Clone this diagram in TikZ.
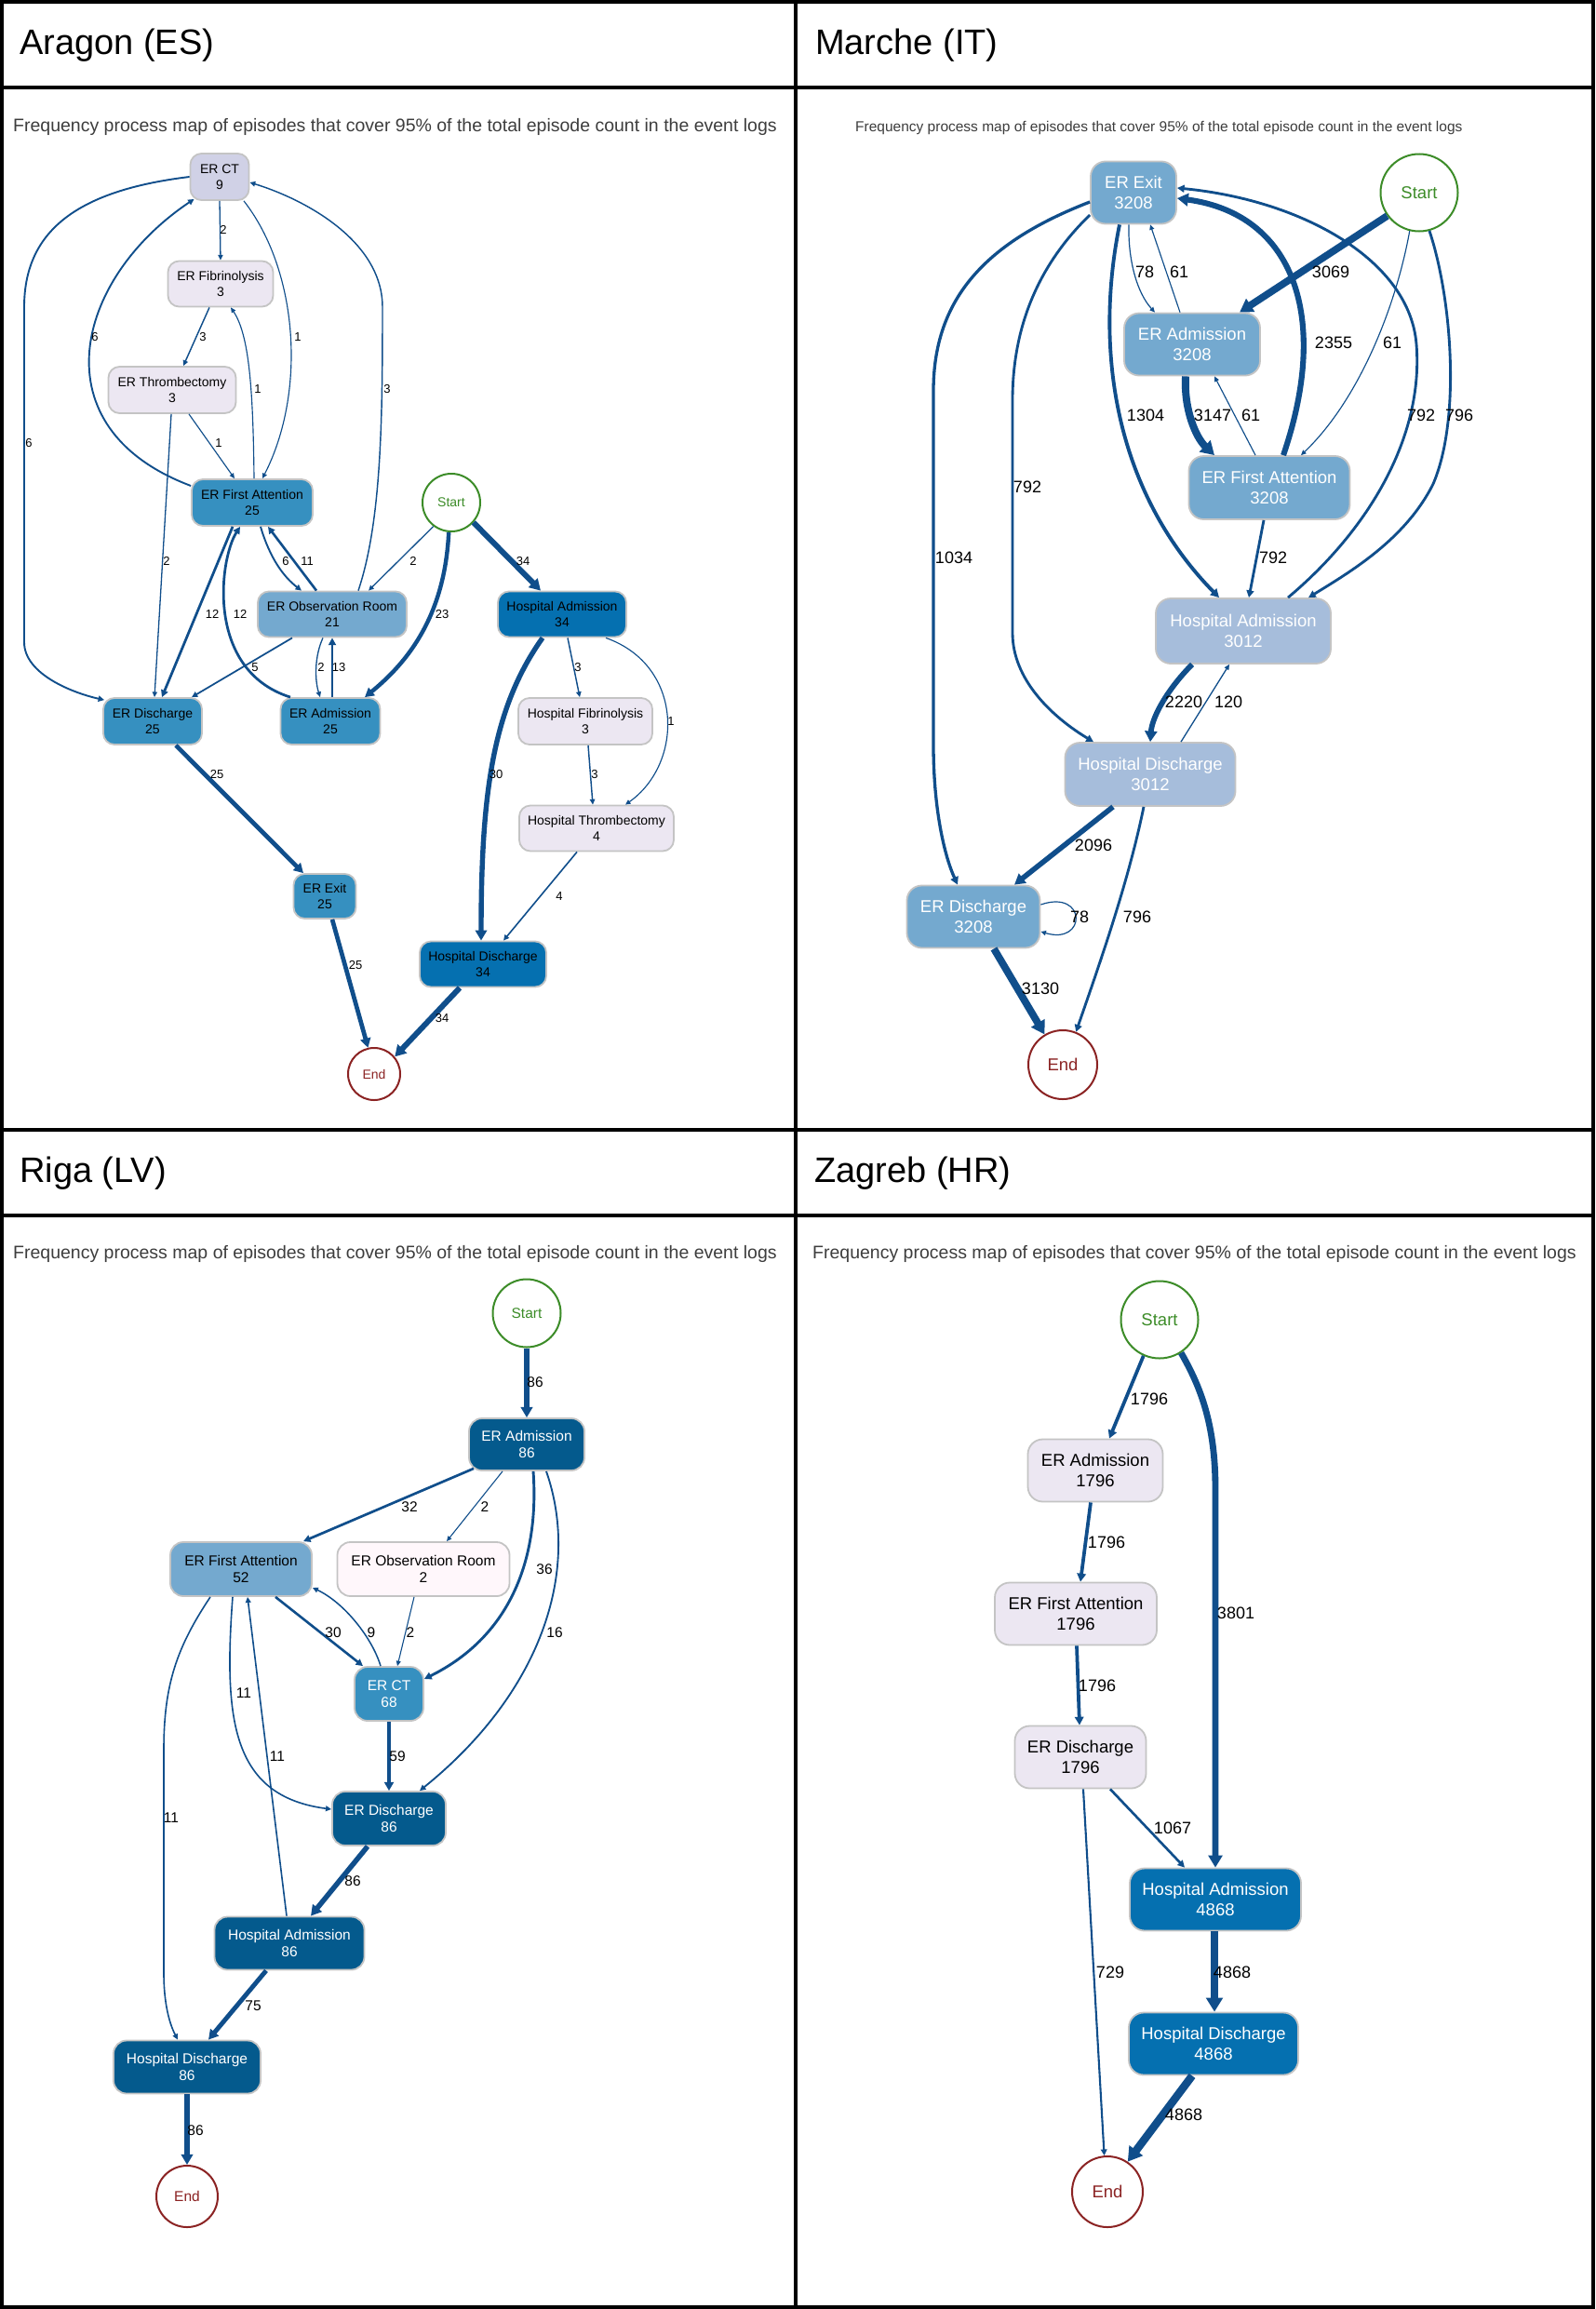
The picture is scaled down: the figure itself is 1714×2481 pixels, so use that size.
\documentclass[tikz,border=0pt]{standalone}
\usepackage{fontspec}
\setmainfont{Liberation Sans}
\usetikzlibrary{arrows.meta}
\definecolor{edgec}{HTML}{104E8B}
\definecolor{nbord}{HTML}{C4C4C4}
\definecolor{pu1}{HTML}{FFF7FB}
\definecolor{pu2}{HTML}{ECE7F2}
\definecolor{pu3}{HTML}{D0D1E6}
\definecolor{pu4}{HTML}{A6BDDB}
\definecolor{pu5}{HTML}{74A9CF}
\definecolor{pu6}{HTML}{3690C0}
\definecolor{pu7}{HTML}{0570B0}
\definecolor{pu8}{HTML}{045A8D}
\definecolor{startg}{HTML}{3C8C28}
\definecolor{endr}{HTML}{8B2323}
\definecolor{subg}{HTML}{3D3D3D}
\begin{document}
\begin{tikzpicture}[x=1pt,y=-1pt,
  every node/.style={inner sep=0pt},
  box/.style n args={3}{draw=nbord, line width=1.8pt, rounded corners=12pt, align=center,
     minimum width=#1pt, minimum height=#2pt, fill=#3},
  wt/.style={text=white},
  startn/.style={circle, draw=startg, text=startg, line width=2pt, fill=white, minimum size=#1pt},
  endn/.style={circle, draw=endr, text=endr, line width=2pt, fill=white, minimum size=#1pt},
  fa/.style={font=\fontsize{14}{17}\selectfont},
  fm/.style={font=\fontsize{18.5}{22}\selectfont, rounded corners=16pt},
  fr/.style={font=\fontsize{15.5}{18.5}\selectfont, rounded corners=14pt},
  fz/.style={font=\fontsize{18.5}{22}\selectfont, rounded corners=16pt},
  la/.style={font=\fontsize{13}{15}\selectfont},
  lm/.style={font=\fontsize{18}{20}\selectfont},
  lr/.style={font=\fontsize{15.5}{18}\selectfont},
  lz/.style={font=\fontsize{18}{20}\selectfont},
  flow/.style={draw=edgec, -{Triangle[length=4pt 1.3, width=3pt 1.7]}},
  fl/.style={flow, line width=#1pt},
  ttl/.style={anchor=base west, font=\fontsize{38}{42}\selectfont},
  sub/.style={anchor=base west, text=subg}
]
\useasboundingbox (0,0) rectangle (1714,2481);
\fill[white] (0,0) rectangle (1714,2481);
% frame
\draw[line width=4pt] (2,2) rectangle (1712,2479);
\draw[line width=4pt] (0,94) -- (1714,94);
\draw[line width=4pt] (0,1214) -- (1714,1214);
\draw[line width=4pt] (0,1306) -- (1714,1306);
\draw[line width=4pt] (855,0) -- (855,2481);
% titles
\node[ttl] (t1) at (21,59) {Aragon (ES)};
\node[ttl] (t2) at (876,59) {Marche (IT)};
\node[ttl] (t3) at (21,1270) {Riga (LV)};
\node[ttl] (t4) at (875,1270) {Zagreb (HR)};
\node[sub, font=\fontsize{19.5}{22}\selectfont] (s1) at (14,141.5) {Frequency process map of episodes that cover 95\% of the total episode count in the event logs};
\node[sub, font=\fontsize{15.5}{18}\selectfont] (s2) at (919,141.5) {Frequency process map of episodes that cover 95\% of the total episode count in the event logs};
\node[sub, font=\fontsize{19.5}{22}\selectfont] (s3) at (14,1352) {Frequency process map of episodes that cover 95\% of the total episode count in the event logs};
\node[sub, font=\fontsize{19.5}{22}\selectfont] (s4) at (873,1352) {Frequency process map of episodes that cover 95\% of the total episode count in the event logs};

% ================= ARAGON =================
\node[box={63}{50}{pu3}, fa] (aCT) at (236,190) {ER CT\\9};
\node[box={113}{49}{pu2}, fa] (aFib) at (237,305) {ER Fibrinolysis\\3};
\node[box={137}{50}{pu2}, fa] (aThr) at (185,419) {ER Thrombectomy\\3};
\node[box={130}{50}{pu6}, fa] (aFA) at (271,540) {ER First Attention\\25};
\node[startn=62, fa] (aStart) at (485,540) {Start};
\node[box={160}{49}{pu5}, fa] (aObs) at (357,660) {ER Observation Room\\21};
\node[box={138}{49}{pu7}, fa] (aHA) at (604,660) {Hospital Admission\\34};
\node[box={106}{50}{pu6}, fa] (aDis) at (164,775) {ER Discharge\\25};
\node[box={107}{50}{pu6}, fa] (aAdm) at (355,775) {ER Admission\\25};
\node[box={144}{50}{pu2}, fa] (aHFib) at (629,775) {Hospital Fibrinolysis\\3};
\node[box={166}{49}{pu2}, fa] (aHThr) at (641,890) {Hospital Thrombectomy\\4};
\node[box={67}{48}{pu6}, fa] (aExit) at (349,963) {ER Exit\\25};
\node[box={136}{49}{pu7}, fa] (aHD) at (519,1036) {Hospital Discharge\\34};
\node[endn=56, fa] (aEnd) at (402,1154) {End};

\draw[fl=1.3] (aCT.south) -- (aFib.north);
\draw[fl=1.45] ([xshift=-12pt]aFib.south) -- ([xshift=12pt]aThr.north);
\draw[fl=1.15] ([xshift=18pt]aThr.south) -- ([xshift=-19pt]aFA.north);
\draw[fl=1.15] ([xshift=2pt]aFA.north) .. controls (272,420) and (268,360) .. ([xshift=11pt]aFib.south);
\draw[fl=1.15] ([xshift=26pt]aCT.south) .. controls (320,290) and (330,420) .. ([xshift=11pt]aFA.north);
\draw[fl=1.9] ([yshift=18pt]aFA.west) .. controls (40,460) and (80,300) .. ([xshift=5pt,yshift=2pt]aCT.south west);
\draw[fl=1.9] (aCT.west) .. controls (80,205) and (26,250) .. (26,330) -- (26,690) .. controls (26,725) and (80,745) .. ([xshift=2pt,yshift=-3pt]aDis.north west);
\draw[fl=1.45] ([xshift=28pt]aObs.north) .. controls (410,560) and (411,450) .. (411,330) .. controls (411,260) and (330,215) .. ([yshift=-6pt]aCT.east);
\draw[fl=1.3] ([xshift=-1pt]aThr.south) -- ([xshift=2pt]aDis.north);
\draw[fl=2.75] ([xshift=-21pt]aFA.south) -- ([xshift=10pt]aDis.north);
\draw[fl=2.75] ([xshift=-43pt]aAdm.north) .. controls (220,720) and (236,600) .. ([xshift=-13pt]aFA.south);
\draw[fl=1.9] ([xshift=9pt]aFA.south) .. controls (290,600) and (305,620) .. ([xshift=-33pt]aObs.north);
\draw[fl=2.6] ([xshift=-17pt]aObs.north) -- ([xshift=17pt]aFA.south);
\draw[fl=1.3] (aStart.233) -- ([xshift=39pt]aObs.north);
\draw[fl=4.4] (aStart.265) .. controls (478,660) and (440,710) .. ([xshift=37pt]aAdm.north);
\draw[fl=6] (aStart.-42) -- ([xshift=-23pt]aHA.north);
\draw[fl=1.75] ([xshift=-43pt]aObs.south) -- ([xshift=42pt]aDis.north);
\draw[fl=1.3] ([xshift=-10pt]aObs.south) .. controls (338,705) and (338,730) .. ([xshift=-11pt]aAdm.north);
\draw[fl=2.9] ([xshift=2pt]aAdm.north) -- (aObs.south);
\draw[fl=4.7] ([xshift=25pt]aDis.south) -- ([xshift=-23pt]aExit.north);
\draw[fl=4.7] ([xshift=8pt]aExit.south) -- (aEnd.103);
\draw[fl=5.4] ([xshift=-21pt]aHA.south) .. controls (530,760) and (517,850) .. ([xshift=-2pt]aHD.north);
\draw[fl=1.45] ([xshift=6pt]aHA.south) -- ([xshift=-6pt]aHFib.north);
\draw[fl=1.15] ([xshift=47pt]aHA.south) .. controls (735,715) and (735,820) .. ([xshift=31pt]aHThr.north);
\draw[fl=1.45] ([xshift=3pt]aHFib.south) -- ([xshift=-4pt]aHThr.north);
\draw[fl=1.6] ([xshift=-21pt]aHThr.south) -- ([xshift=22pt]aHD.north);
\draw[fl=6] ([xshift=-25pt]aHD.south) -- (aEnd.40);

\node[la] (la1) at (240,247) {2};
\node[la] (la2) at (218,362) {3};
\node[la] (la3) at (235,476) {1};
\node[la] (la4) at (277,418) {1};
\node[la] (la5) at (320,362) {1};
\node[la] (la6) at (102,362) {6};
\node[la] (la7) at (31,476) {6};
\node[la] (la8) at (416,418) {3};
\node[la] (la9) at (179,603) {2};
\node[la] (la10) at (228,660) {12};
\node[la] (la11) at (258,660) {12};
\node[la] (la12) at (307,603) {6};
\node[la] (la13) at (330,603) {11};
\node[la] (la14) at (444,603) {2};
\node[la] (la15) at (475,660) {23};
\node[la] (la16) at (562,603) {34};
\node[la] (la17) at (274,717) {5};
\node[la] (la18) at (345,717) {2};
\node[la] (la19) at (364,717) {13};
\node[la] (la20) at (233,832) {25};
\node[la] (la21) at (382,1037) {25};
\node[la] (la22) at (533,832) {30};
\node[la] (la23) at (621,717) {3};
\node[la] (la24) at (721,775) {1};
\node[la] (la25) at (639,832) {3};
\node[la] (la26) at (601,963) {4};
\node[la] (la27) at (475,1094) {34};

% ================= MARCHE =================
\node[box={92}{67}{pu5}, fm, wt] (mExit) at (1218,207) {ER Exit\\3208};
\node[startn=83, fm] (mStart) at (1525,207) {Start};
\node[box={146}{67}{pu5}, fm, wt] (mAdm) at (1281,370) {ER Admission\\3208};
\node[box={173}{68}{pu5}, fm, wt] (mFA) at (1364,524) {ER First Attention\\3208};
\node[box={188}{70}{pu4}, fm, wt] (mHA) at (1336,678) {Hospital Admission\\3012};
\node[box={183}{68}{pu4}, fm, wt] (mHD) at (1236,832) {Hospital Discharge\\3012};
\node[box={143}{67}{pu5}, fm, wt] (mDis) at (1046,985) {ER Discharge\\3208};
\node[endn=74, fm] (mEnd) at (1142,1144) {End};

\draw[fl=7.7] (mStart.216) -- ([xshift=51pt]mAdm.north);
\draw[fl=6.1] ([xshift=15pt]mFA.north) .. controls (1430,340) and (1390,230) .. ([yshift=-6pt]mExit.east);
\draw[fl=1.2] ([xshift=-5pt]mExit.south) .. controls (1212,280) and (1222,315) .. ([xshift=-40pt]mAdm.north);
\draw[fl=1.15] ([xshift=-13pt]mAdm.north) -- ([xshift=18pt]mExit.south);
\draw[fl=7.9] ([xshift=-7pt]mAdm.south) .. controls (1272,440) and (1285,470) .. ([xshift=-59pt]mFA.north);
\draw[fl=1.15] ([xshift=-15pt]mFA.north) -- ([xshift=24pt]mAdm.south);
\draw[fl=1.15] (mStart.256) .. controls (1500,330) and (1460,430) .. ([xshift=34pt]mFA.north);
\draw[fl=3.85] ([xshift=-15pt]mExit.south) .. controls (1175,380) and (1200,530) .. ([xshift=-26pt]mHA.north);
\draw[fl=2.85] ([xshift=-6pt]mFA.south) -- ([xshift=6pt]mHA.north);
\draw[fl=2.85] ([xshift=48pt]mHA.north) .. controls (1470,570) and (1530,470) .. (1522,370) .. controls (1515,280) and (1400,215) .. ([yshift=5pt]mExit.east);
\draw[fl=2.85] (mStart.-75) .. controls (1560,320) and (1570,450) .. (1540,520) .. controls (1510,580) and (1450,615) .. ([xshift=70pt]mHA.north);
\draw[fl=2.85] ([yshift=-24pt]mExit.west) .. controls (1110,290) and (1088,360) .. (1088,430) -- (1088,680) .. controls (1088,730) and (1130,770) .. ([xshift=-61pt]mHD.north);
\draw[fl=3.3] ([yshift=-10pt]mExit.west) .. controls (1060,260) and (1003,320) .. (1003,420) -- (1003,800) .. controls (1003,870) and (1015,920) .. ([xshift=-17pt]mDis.north);
\draw[fl=5.8] ([xshift=-55pt]mHA.south) .. controls (1255,740) and (1238,770) .. (mHD.north);
\draw[fl=1.3] ([xshift=33pt]mHD.north) -- ([xshift=-15pt]mHA.south);
\draw[fl=5.6] ([xshift=-40pt]mHD.south) -- ([xshift=44pt]mDis.north);
\draw[fl=2.85] ([xshift=-7pt]mHD.south) .. controls (1212,950) and (1180,1040) .. (mEnd.68);
\draw[fl=1.2] ([yshift=13pt]mDis.east) .. controls (1168,955) and (1168,1016) .. ([yshift=-16pt]mDis.east);
\draw[fl=7.8] ([xshift=22pt]mDis.south) -- (mEnd.121);

\node[lm] (lm1) at (1430,292) {3069};
\node[lm] (lm2) at (1433,368) {2355};
\node[lm] (lm3) at (1230,292) {78};
\node[lm] (lm4) at (1267,292) {61};
\node[lm] (lm5) at (1303,446) {3147};
\node[lm] (lm6) at (1344,446) {61};
\node[lm] (lm7) at (1496,368) {61};
\node[lm] (lm8) at (1231,446) {1304};
\node[lm] (lm9) at (1368,599) {792};
\node[lm] (lm10) at (1527,446) {792};
\node[lm] (lm11) at (1568,446) {796};
\node[lm] (lm12) at (1104,523) {792};
\node[lm] (lm13) at (1025,599) {1034};
\node[lm] (lm14) at (1272,754) {2220};
\node[lm] (lm15) at (1320,754) {120};
\node[lm] (lm16) at (1175,908) {2096};
\node[lm] (lm17) at (1222,985) {796};
\node[lm] (lm18) at (1160,985) {78};
\node[lm] (lm19) at (1118,1062) {3130};

% ================= RIGA =================
\node[startn=73, fr] (rStart) at (566,1411) {Start};
\node[box={124}{56}{pu8}, fr, wt] (rAdm) at (566,1552) {ER Admission\\86};
\node[box={152}{58}{pu5}, fr] (rFA) at (259,1686) {ER First Attention\\52};
\node[box={185}{58}{pu1}, fr] (rObs) at (455,1686) {ER Observation Room\\2};
\node[box={74}{58}{pu6}, fr, wt] (rCT) at (418,1820) {ER CT\\68};
\node[box={122}{58}{pu8}, fr, wt] (rDis) at (418,1954) {ER Discharge\\86};
\node[box={161}{57}{pu8}, fr, wt] (rHA) at (311,2088) {Hospital Admission\\86};
\node[box={158}{57}{pu8}, fr, wt] (rHD) at (201,2221) {Hospital Discharge\\86};
\node[endn=66, fr] (rEnd) at (201,2360) {End};

\draw[fl=5.5] (rStart.south) -- (rAdm.north);
\draw[fl=2.7] ([xshift=-57pt,yshift=3pt]rAdm.south) -- ([xshift=67pt]rFA.north);
\draw[fl=1.1] ([xshift=-26pt]rAdm.south) -- ([xshift=25pt]rObs.north);
\draw[fl=2.9] ([xshift=7pt]rAdm.south) .. controls (580,1680) and (545,1760) .. ([yshift=16pt]rCT.east);
\draw[fl=1.85] ([xshift=21pt]rAdm.south) .. controls (625,1690) and (580,1820) .. ([xshift=33pt]rDis.north);
\draw[fl=2.6] ([xshift=37pt]rFA.south) -- ([xshift=-28pt]rCT.north);
\draw[fl=1.5] ([xshift=-9pt]rCT.north) .. controls (400,1760) and (370,1722) .. ([yshift=-20pt]rFA.east);
\draw[fl=1.1] ([xshift=-10pt]rObs.south) -- ([xshift=9pt]rCT.north);
\draw[fl=4.1] (rCT.south) -- (rDis.north);
\draw[fl=1.6] ([xshift=-9pt]rFA.south) .. controls (240,1850) and (250,1930) .. ([yshift=10pt]rDis.west);
\draw[fl=1.6] ([xshift=-3pt]rHA.north) -- ([xshift=7pt]rFA.south);
\draw[fl=1.6] ([xshift=-33pt]rFA.south) .. controls (190,1770) and (176,1810) .. (176,1880) -- (176,2120) .. controls (176,2160) and (185,2180) .. ([xshift=-10pt]rHD.north);
\draw[fl=5.5] ([xshift=-23pt]rDis.south) -- ([xshift=23pt]rHA.north);
\draw[fl=4.9] ([xshift=-25pt]rHA.south) -- ([xshift=23pt]rHD.north);
\draw[fl=5.5] (rHD.south) -- (rEnd.north);

\node[lr] (lr1) at (575,1485) {86};
\node[lr] (lr2) at (440,1619) {32};
\node[lr] (lr3) at (521,1619) {2};
\node[lr] (lr4) at (585,1686) {36};
\node[lr] (lr5) at (596,1754) {16};
\node[lr] (lr6) at (358,1754) {30};
\node[lr] (lr7) at (399,1754) {9};
\node[lr] (lr8) at (441,1754) {2};
\node[lr] (lr9) at (427,1887) {59};
\node[lr] (lr10) at (262,1819) {11};
\node[lr] (lr11) at (298,1887) {11};
\node[lr] (lr12) at (184,1953) {11};
\node[lr] (lr13) at (379,2021) {86};
\node[lr] (lr14) at (272,2155) {75};
\node[lr] (lr15) at (210,2289) {86};

% ================= ZAGREB =================
\node[startn=83, fz] (zStart) at (1246,1418) {Start};
\node[box={145}{67}{pu2}, fz] (zAdm) at (1177,1580) {ER Admission\\1796};
\node[box={174}{67}{pu2}, fz] (zFA) at (1156,1734) {ER First Attention\\1796};
\node[box={141}{67}{pu2}, fz] (zDis) at (1161,1888) {ER Discharge\\1796};
\node[box={184}{67}{pu7}, fz, wt] (zHA) at (1306,2041) {Hospital Admission\\4868};
\node[box={182}{67}{pu7}, fz, wt] (zHD) at (1304,2196) {Hospital Discharge\\4868};
\node[endn=76, fz] (zEnd) at (1190,2355) {End};

\draw[fl=3.75] (zStart.246) -- ([xshift=15pt]zAdm.north);
\draw[fl=6.85] (zStart.-57) .. controls (1290,1490) and (1306,1530) .. (1306,1600) -- (zHA.north);
\draw[fl=3.75] ([xshift=-5pt]zAdm.south) -- ([xshift=5pt]zFA.north);
\draw[fl=3.75] ([xshift=1pt]zFA.south) -- ([xshift=-1pt]zDis.north);
\draw[fl=2.65] ([xshift=32pt]zDis.south) -- ([xshift=-33pt]zHA.north);
\draw[fl=2.1] ([xshift=3pt]zDis.south) -- (zEnd.95);
\draw[fl=8.5] ([xshift=-1pt]zHA.south) -- ([xshift=1pt]zHD.north);
\draw[fl=8.5] ([xshift=-23pt]zHD.south) -- (zEnd.56);

\node[lz] (lz1) at (1235,1503) {1796};
\node[lz] (lz2) at (1328,1733) {3801};
\node[lz] (lz3) at (1189,1657) {1796};
\node[lz] (lz4) at (1179,1811) {1796};
\node[lz] (lz5) at (1260,1964) {1067};
\node[lz] (lz6) at (1193,2119) {729};
\node[lz] (lz7) at (1324,2119) {4868};
\node[lz] (lz8) at (1272,2272) {4868};
\end{tikzpicture}
\end{document}
